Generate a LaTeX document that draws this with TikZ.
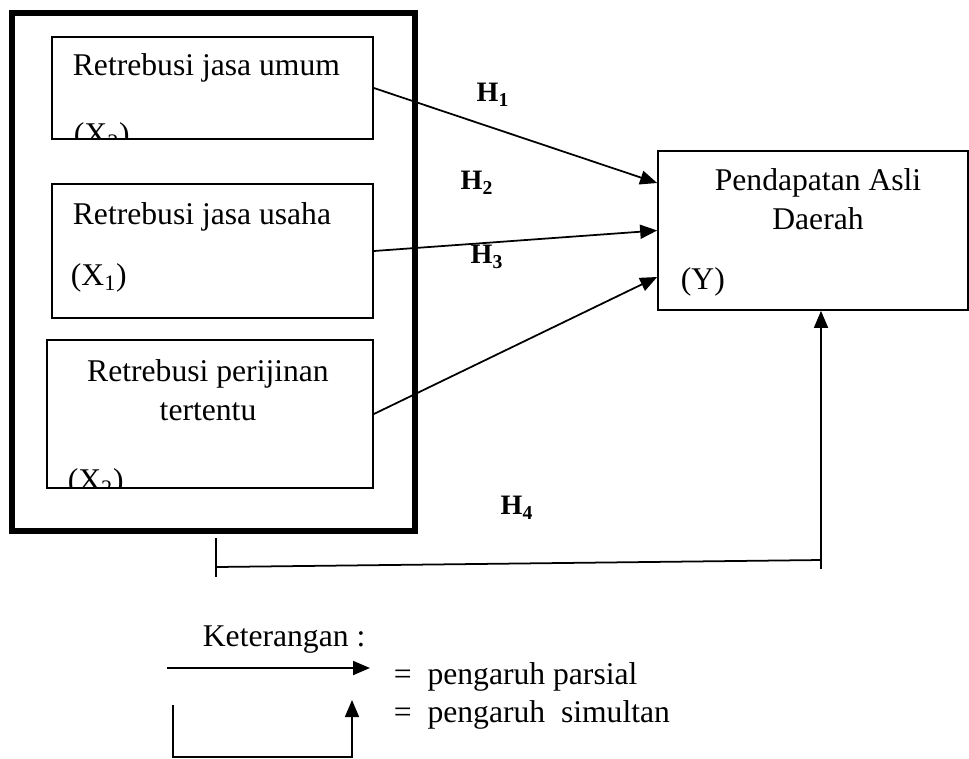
\documentclass[tikz,border=0pt]{standalone}
\usepackage{fontspec}
\setmainfont{Liberation Serif}
\usetikzlibrary{arrows.meta,positioning}

\begin{document}
\begin{tikzpicture}[x=0.02cm,y=-0.02cm,
    font=\fontsize{18}{22}\selectfont,
    line width=1pt,
    tip/.style={-{Triangle[length=0.34cm,width=0.28cm]}},
    hlabel/.style={font=\fontsize{16}{18}\selectfont\bfseries}]
  \useasboundingbox (0,0) rectangle (969,758);
  % frame round the three variables
  \draw[line width=3pt] (12,13) rectangle (415,531);
  \begin{scope}[every node/.style={draw,rectangle,inner sep=0pt}]
    \node (U) [minimum width=6.42cm,minimum height=2.04cm] at (212.5,88) {};
    \node (S) [minimum width=6.42cm,minimum height=2.68cm] at (212.5,251) {};
    \node (T) [minimum width=6.52cm,minimum height=2.96cm] at (210,414) {};
    \node (Y) [minimum width=6.2cm,minimum height=3.18cm] at (813,230.5) {};
  \end{scope}
  \begin{scope}[every node/.style={inner sep=0pt}]
    \node[anchor=west] (tU) at (72,68) {Retrebusi jasa umum};
    \node[anchor=west] (tS) at (72,217) {Retrebusi jasa usaha};
    \node[anchor=west] (xS) at (70,278) {(X\textsubscript{1})};
    \node[align=center] (tT) at (208,390) {Retrebusi perijinan\\tertentu};
    \node[align=center] (tY) at (818,199) {Pendapatan Asli\\Daerah};
    \node[anchor=west] (xY) at (680,282) {(Y)};
  \end{scope}
  % labels cut off by the box edge
  \begin{scope}
    \clip (U.south west) rectangle (U.north east);
    \node[anchor=west,inner sep=0pt] (xU) at (73,137) {(X\textsubscript{2})};
  \end{scope}
  \begin{scope}
    \clip (T.south west) rectangle (T.north east);
    \node[anchor=west,inner sep=0pt] (xT) at (67,483) {(X\textsubscript{2})};
  \end{scope}
  % partial effects
  \path (U.east) edge[tip] ([yshift=0.95cm]Y.west);
  \path (S.east) edge[tip] (Y.west);
  \path (T.east) edge[tip] ([yshift=-0.93cm]Y.west);
  \node[hlabel] (H1) at (493,95) {H\textsubscript{1}};
  \node[hlabel] (H2) at (477,183) {H\textsubscript{2}};
  \node[hlabel] (H3) at (487,257) {H\textsubscript{3}};
  % simultaneous effect
  \coordinate (s1) at (216,538);
  \coordinate (s2) at (216,577);
  \coordinate (s3) at (216,567);
  \coordinate (s4) at (821,560);
  \coordinate (s5) at (821,569);
  \draw (s1) -- (s2);
  \draw (s3) -- (s4);
  \draw[tip] (s5) -- (s5 |- Y.south);
  \node[hlabel] (H4) at (517,508) {H\textsubscript{4}};
  % legend
  \node[anchor=west,inner sep=0pt] (ket) at (202,640) {Keterangan :};
  \coordinate (la) at (167,668);
  \coordinate (lb) at (370,668);
  \draw[tip] (la) -- (lb);
  \node[anchor=west,inner sep=0pt] (parsial) at (393,677) {=\ \ pengaruh parsial};
  \coordinate (lc) at (173,705);
  \coordinate (ld) at (352,757);
  \coordinate (le) at (352,700);
  \draw[tip] (lc) |- (ld) -- (le);
  \node[anchor=west,inner sep=0pt] (simultan) at (393,715) {=\ \ pengaruh\ \ simultan};
\end{tikzpicture}
\end{document}
